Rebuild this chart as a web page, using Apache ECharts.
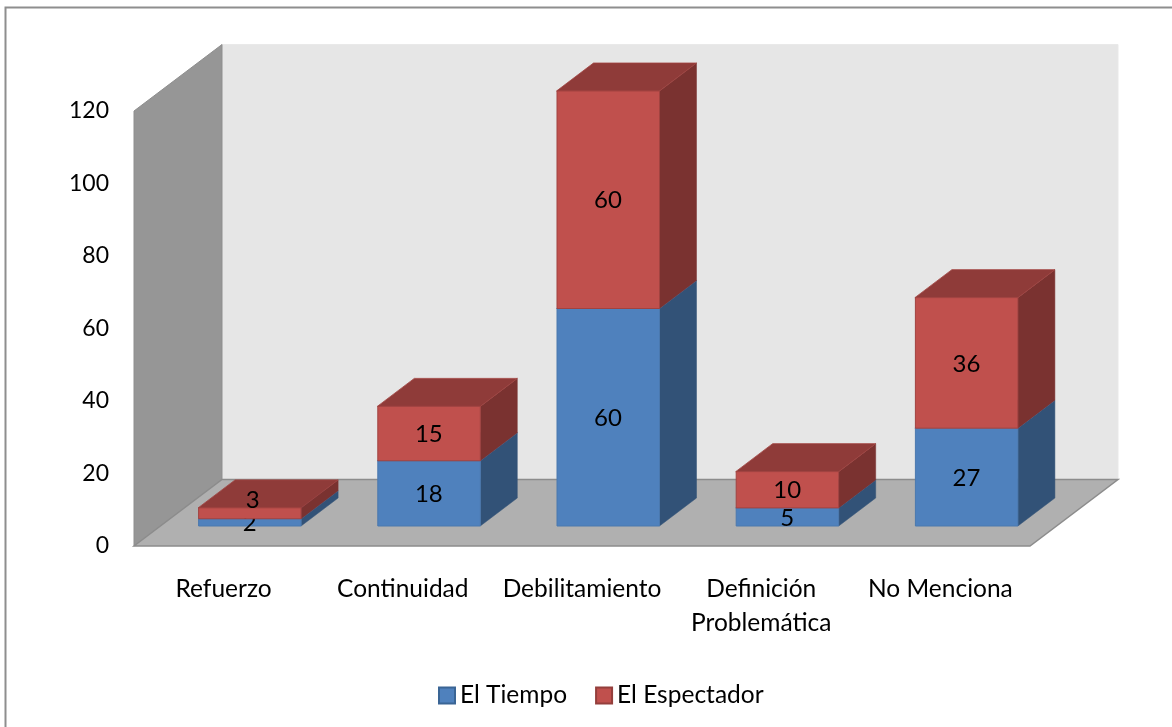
<!DOCTYPE html>
<html><head><meta charset="utf-8">
<style>html,body{margin:0;padding:0;background:#fff}#c{width:1172px;height:727px}</style>
<script src="https://cdn.jsdelivr.net/npm/echarts@6/dist/echarts.min.js"></script>
</head><body><div id="c"></div>
<script>
const categories = ['Refuerzo','Continuidad','Debilitamiento','Definición\nProblemática','No Menciona'];
const elTiempo = [2,18,60,5,27];
const elEspectador = [3,15,60,10,36];
const yTicks = {min:0,max:120,interval:20};

const FONT = 'Lato';
const WALL = {dx:88,dy:-66.5};      // depth of the floor
const BAR = {dx:37,dy:-28,gx:26,gy:-20,w:103};
const poly = (points,fill,stroke,lw) => ({type:'polygon',shape:{points},style:{fill,stroke:stroke||fill,lineWidth:lw===undefined?1:lw}});

function renderWalls(params, api){
  const c = params.coordSys, x0=c.x, x1=c.x+c.width, yT=c.y, yB=c.y+c.height;
  const d = WALL;
  return {type:'group',children:[
    poly([[x0+d.dx,yT+d.dy],[x1+d.dx,yT+d.dy],[x1+d.dx,yB+d.dy],[x0+d.dx,yB+d.dy]],'#e6e6e6','#e9e9e9'),
    poly([[x0,yT],[x0+d.dx,yT+d.dy],[x0+d.dx,yB+d.dy],[x0,yB]],'#969696','#8e8e8e'),
    poly([[x0,yB],[x0+d.dx,yB+d.dy],[x1+d.dx,yB+d.dy],[x1,yB]],'#b0b0b0','#8c8c8c',1.5)
  ]};
}

function makeBar(colors, labelShift){
  return function(params, api){
    const i = api.value(0);
    const pa = api.coord([i, api.value(1)]), pb = api.coord([i, api.value(2)]);
    const l = pa[0]-BAR.w/2+BAR.gx, r = l+BAR.w, yb = pa[1]+BAR.gy, yt = pb[1]+BAR.gy;
    const dx = BAR.dx, dy = BAR.dy;
    const s = labelShift(i);
    return {type:'group',children:[
      poly([[r,yt],[r+dx,yt+dy],[r+dx,yb+dy],[r,yb]],colors.side,colors.side,.5),
      poly([[l,yt],[l+dx,yt+dy],[r+dx,yt+dy],[r,yt]],colors.top,colors.edge,.8),
      {type:'rect',shape:{x:l+.5,y:yt,width:BAR.w-.5,height:yb-yt},style:{fill:colors.face,stroke:colors.edge,lineWidth:1}},
      {type:'text',z2:10,style:{x:(l+r)/2+s[0],y:(yt+yb)/2+s[1]+1,text:String(api.value(3)),fill:'#000',font:'24px '+FONT,align:'center',verticalAlign:'middle'}}
    ]};
  };
}
const stacked = (vals, base) => vals.map((v,i)=>[i,base[i],base[i]+v,v]);
const zeros = elTiempo.map(()=>0);

const chart = echarts.init(document.getElementById('c'),null,{renderer:'canvas'});
chart.setOption({
  animation:false,
  backgroundColor:'#fff',
  textStyle:{fontFamily:FONT},
  graphic:[
    {type:'polyline',silent:true,z:-1,shape:{points:[[5.5,727],[5.5,7.5],[1172,7.5]]},style:{stroke:'#8e8e8e',lineWidth:2,fill:null}}
  ],
  grid:{left:134,top:111,width:896,height:435,containLabel:false},
  legend:{left:433,top:678,itemWidth:16,itemHeight:16,itemGap:28,icon:'rect',
    textStyle:{fontFamily:FONT,fontSize:24.5,color:'#000'},
    data:['El Tiempo','El Espectador']},
  xAxis:{type:'category',data:categories,
    axisLine:{show:false},axisTick:{show:false},splitLine:{show:false},
    axisLabel:{interval:0,fontFamily:FONT,fontSize:24.5,color:'#000',margin:26,lineHeight:34,align:'center'}},
  yAxis:{type:'value',min:yTicks.min,max:yTicks.max,interval:yTicks.interval,
    axisLine:{show:false},axisTick:{show:false},splitLine:{show:false},
    axisLabel:{fontFamily:FONT,fontSize:23,color:'#000',margin:25,align:'right',padding:[5,0,0,0]}},
  series:[
    {type:'custom',silent:true,z:1,coordinateSystem:'cartesian2d',data:[[0,0]],encode:{x:0,y:1},renderItem:renderWalls,legendHoverLink:false,name:'walls'},
    {type:'custom',name:'El Tiempo',z:2,itemStyle:{color:'#4f81bd',borderColor:'#3a6595',borderWidth:1.5},
     data:stacked(elTiempo,zeros),encode:{x:0,y:[1,2]},
     renderItem:makeBar({face:'#4f81bd',side:'#325277',top:'#3f6797',edge:'#4a78ae'},()=>[0,0])},
    {type:'custom',name:'El Espectador',z:3,itemStyle:{color:'#c0504d',borderColor:'#943f3c',borderWidth:1.5},
     data:stacked(elEspectador,elTiempo),encode:{x:0,y:[1,2]},
     renderItem:makeBar({face:'#c0504d',side:'#7a3230',top:'#8f3b39',edge:'#a14340'},i=>i===0?[3,-14]:[0,0])}
  ]
});
</script></body></html>
